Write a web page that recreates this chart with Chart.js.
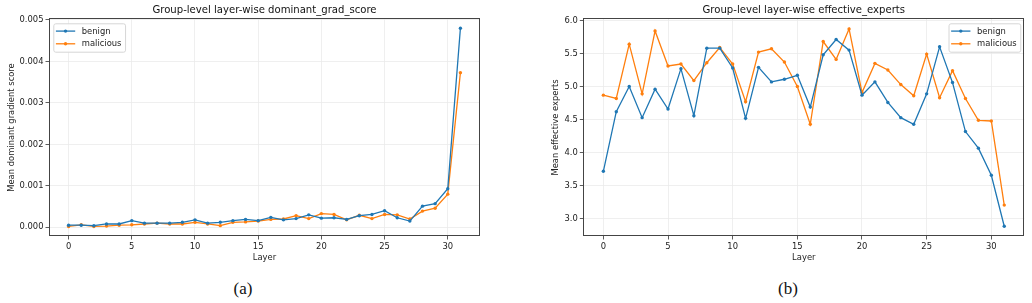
<!DOCTYPE html>
<html>
<head>
<meta charset="utf-8">
<script src="https://cdn.jsdelivr.net/npm/chart.js@4.4.1/dist/chart.umd.min.js"></script>
<style>
  body { margin: 0; background: #fff; width: 1032px; height: 303px; position: relative; overflow: hidden; }
  canvas { position: absolute; top: 0; }
  #grad-chart { left: 0; }
  #experts-chart { left: 516px; }
  .caption { position: absolute; font-family: 'Liberation Serif', serif; font-size: 17px; color: #111; transform: translate(-50%, -50%); }
</style>
</head>
<body>
<canvas id="grad-chart" width="516" height="270"></canvas>
<canvas id="experts-chart" width="516" height="270"></canvas>
<div class="caption" style="left:243px;top:289px">(a)</div>
<div class="caption" style="left:788px;top:289px">(b)</div>
<script>
const layers = [0, 1, 2, 3, 4, 5, 6, 7, 8, 9, 10, 11, 12, 13, 14, 15,
  16, 17, 18, 19, 20, 21, 22, 23, 24, 25, 26, 27, 28, 29, 30, 31];
const layerTicks = [0, 5, 10, 15, 20, 25, 30];

const gradBenign = [0.00005, 0.00005, 0.00004, 0.00008, 0.00008, 0.00016, 0.0001, 0.0001,
  0.0001, 0.00012, 0.00018, 0.0001, 0.00012, 0.00016, 0.00019, 0.00016,
  0.00024, 0.00018, 0.00021, 0.0003, 0.00022, 0.00023, 0.00019, 0.00028,
  0.00031, 0.0004, 0.00023, 0.00015, 0.00051, 0.00057, 0.00093, 0.0048];
const gradMalicious = [0.00002, 0.00006, 0.00002, 0.00003, 0.00005, 0.00006, 0.00008, 0.0001,
  0.00008, 0.00008, 0.00012, 0.00008, 0.00004, 0.00012, 0.00013, 0.00015,
  0.00019, 0.0002, 0.00028, 0.00021, 0.00033, 0.00031, 0.00018, 0.00029,
  0.00021, 0.00031, 0.0003, 0.0002, 0.00039, 0.00046, 0.0008, 0.00373];
const gradTicks = [0, 0.001, 0.002, 0.003, 0.004, 0.005];

const expertsBenign = [3.72, 4.62, 5.00, 4.53, 4.96, 4.66, 5.27, 4.56,
  5.58, 5.58, 5.28, 4.52, 5.29, 5.07, 5.11, 5.17,
  4.69, 5.48, 5.71, 5.55, 4.87, 5.07, 4.76, 4.53,
  4.43, 4.89, 5.60, 5.06, 4.32, 4.07, 3.66, 2.89];
const expertsMalicious = [4.87, 4.82, 5.64, 4.89, 5.84, 5.31, 5.34, 5.09,
  5.36, 5.59, 5.34, 4.77, 5.52, 5.57, 5.37, 5.00,
  4.43, 5.68, 5.41, 5.87, 4.91, 5.35, 5.25, 5.03,
  4.86, 5.49, 4.83, 5.24, 4.82, 4.49, 4.48, 3.21];
const expertsTicks = [3.0, 3.5, 4.0, 4.5, 5.0, 5.5, 6.0];

const BLUE = '#1f77b4';
const ORANGE = '#ff7f0e';
const FONT = 'DejaVu Sans';

Chart.defaults.font.family = FONT;
Chart.defaults.font.size = 8.4;
Chart.defaults.color = '#222';

// title, frame and matplotlib-like legend drawn on the chart area
const framePlugin = {
  id: 'frame',
  afterDraw(chart, args, opts) {
    const { ctx, chartArea: a } = chart;
    ctx.save();
    ctx.strokeStyle = '#444';
    ctx.lineWidth = 1;
    ctx.strokeRect(Math.round(a.left) + 0.5, Math.round(a.top) - 0.5,
      Math.round(a.right - a.left) - 1, Math.round(a.bottom - a.top));

    ctx.fillStyle = '#111';
    ctx.font = `10.1px ${FONT}`;
    ctx.textAlign = 'center';
    ctx.textBaseline = 'middle';
    ctx.fillText(opts.title, (a.left + a.right) / 2, 10.7);

    ctx.font = `8.4px ${FONT}`;
    ctx.textAlign = 'left';
    const sets = chart.data.datasets;
    const textW = Math.max(...sets.map(d => ctx.measureText(d.label).width));
    const w = 2.6 + 19.3 + 6.6 + textW + 3.6;
    const h = 28.4;
    const x = opts.legendRight ? a.right - 4 - w : a.left + 4.3;
    const y = a.top + 4.3;
    ctx.beginPath();
    ctx.roundRect(x + 0.5, y + 0.5, w, h, 2);
    ctx.fillStyle = 'rgba(255,255,255,0.85)';
    ctx.fill();
    ctx.strokeStyle = '#d6d6d6';
    ctx.stroke();
    sets.forEach((d, i) => {
      const ry = y + 7.8 + i * 12.7;
      ctx.strokeStyle = d.borderColor;
      ctx.lineWidth = 1.3;
      ctx.beginPath();
      ctx.moveTo(x + 2.6, ry);
      ctx.lineTo(x + 21.9, ry);
      ctx.stroke();
      ctx.fillStyle = d.borderColor;
      ctx.beginPath();
      ctx.arc(x + 12.25, ry, 1.7, 0, Math.PI * 2);
      ctx.fill();
      ctx.fillStyle = '#222';
      ctx.fillText(d.label, x + 28.5, ry + 0.5);
    });
    ctx.restore();
  }
};

function series(label, values, color) {
  return {
    label,
    data: values.map((v, i) => ({ x: layers[i], y: v })),
    borderColor: color,
    backgroundColor: color,
    borderWidth: 1.3,
    pointRadius: 1.7,
    pointBorderWidth: 0,
    tension: 0
  };
}

function makeChart(id, cfg) {
  return new Chart(document.getElementById(id), {
    type: 'line',
    data: { datasets: cfg.datasets },
    plugins: [framePlugin],
    options: {
      responsive: false,
      animation: false,
      devicePixelRatio: 1,
      layout: { padding: { left: 0, right: cfg.padRight, top: 19, bottom: 6.7 } },
      plugins: {
        legend: { display: false },
        tooltip: { enabled: false },
        frame: { title: cfg.title, legendRight: cfg.legendRight }
      },
      scales: {
        x: {
          type: 'linear',
          min: -1.55,
          max: 32.55,
          afterBuildTicks: s => { s.ticks = layerTicks.map(v => ({ value: v })); },
          afterFit: s => { s.height = 27.3; },
          ticks: { padding: 2.5, maxRotation: 0, callback: v => String(v) },
          grid: { color: '#ebebeb', lineWidth: 0.8, tickColor: '#333', tickLength: 3.5, tickWidth: 0.8 },
          border: { display: false },
          title: { display: true, text: 'Layer', padding: { top: 0, bottom: 0 } }
        },
        y: {
          type: 'linear',
          min: cfg.yMin,
          max: cfg.yMax,
          afterBuildTicks: s => { s.ticks = cfg.yTicks.map(v => ({ value: v })); },
          afterFit: s => { s.width = cfg.axisWidth; },
          ticks: { padding: 2, callback: v => v.toFixed(cfg.digits) },
          grid: { color: '#ebebeb', lineWidth: 0.8, tickColor: '#333', tickLength: 3.5, tickWidth: 0.8 },
          border: { display: false },
          title: { display: true, text: cfg.yTitle, padding: { top: cfg.yTitlePad, bottom: 0 } }
        }
      }
    }
  });
}

makeChart('grad-chart', {
  title: 'Group-level layer-wise dominant_grad_score',
  yTitle: 'Mean dominant gradient score',
  datasets: [series('benign', gradBenign, BLUE), series('malicious', gradMalicious, ORANGE)],
  yMin: -0.00021,
  yMax: 0.005024,
  yTicks: gradTicks,
  digits: 3,
  axisWidth: 49,
  yTitlePad: 6.3,
  padRight: 36,
  legendRight: false
});

makeChart('experts-chart', {
  title: 'Group-level layer-wise effective_experts',
  yTitle: 'Mean effective experts',
  datasets: [series('benign', expertsBenign, BLUE), series('malicious', expertsMalicious, ORANGE)],
  yMin: 2.743,
  yMax: 6.02,
  yTicks: expertsTicks,
  digits: 1,
  axisWidth: 67.3,
  yTitlePad: 34.3,
  padRight: 7.7,
  legendRight: true
});
</script>
</body>
</html>
